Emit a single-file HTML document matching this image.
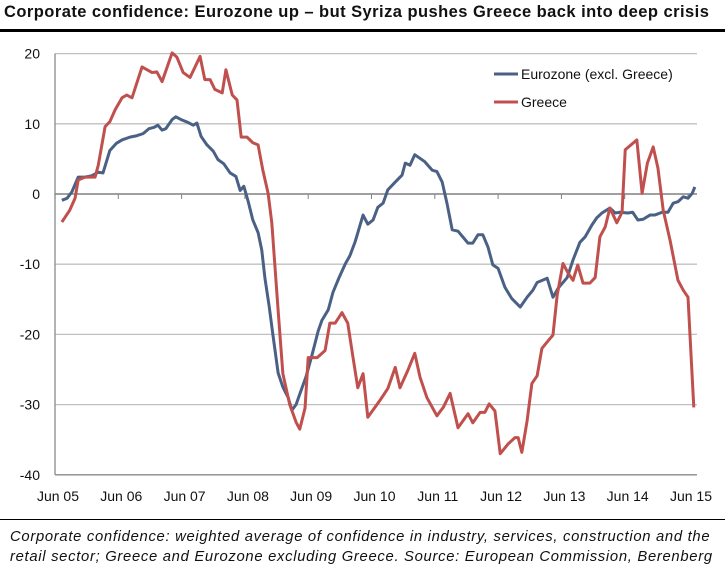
<!DOCTYPE html>
<html><head><meta charset="utf-8"><style>
body{margin:0;background:#fff;width:725px;height:573px;overflow:hidden;font-family:"Liberation Sans",sans-serif}
#title{position:absolute;left:4px;top:3px;font-weight:bold;font-size:16.5px;letter-spacing:0.45px;color:#111;white-space:nowrap}
#bar{position:absolute;left:0;top:29px;width:725px;height:3px;background:#000}
#foot{position:absolute;left:10px;top:527px;font-style:italic;font-size:14.8px;letter-spacing:0.7px;line-height:20px;color:#111;white-space:nowrap}
#sep{position:absolute;left:0;top:519px;width:725px;height:1px;background:#000}
svg{position:absolute;left:0;top:0}
</style></head><body>
<div id="title">Corporate confidence: Eurozone up – but Syriza pushes Greece back into deep crisis</div>
<div id="bar"></div>
<svg id="chart" width="725" height="573"></svg>
<div id="sep"></div>
<div id="foot">Corporate confidence: weighted average of confidence in industry, services, construction and the<br>retail sector; Greece and Eurozone excluding Greece. Source: European Commission, Berenberg</div>
<script>
const xLabels=["Jun 05","Jun 06","Jun 07","Jun 08","Jun 09","Jun 10","Jun 11","Jun 12","Jun 13","Jun 14","Jun 15"];
const yTicks=[20,10,0,-10,-20,-30,-40];
// months since Jun 05
const euroMonths=[1.3,2.3,3.2,4.4,5.7,7.0,8.2,9.1,10.4,11.6,12.7,14.2,15.5,16.7,17.8,18.8,19.5,20.3,21.0,22.2,22.9,23.9,25.2,26.2,26.9,27.7,28.8,30.0,30.9,32.0,33.2,34.3,35.1,35.8,36.6,37.5,38.5,39.2,39.8,40.6,41.3,42.3,43.2,44.2,44.9,45.7,46.4,47.6,48.7,49.9,50.6,51.8,52.7,53.8,55.0,55.9,56.9,58.4,59.3,60.3,61.2,62.2,63.1,64.5,65.8,66.4,67.3,68.2,70.1,71.5,72.4,73.4,74.3,75.3,76.4,78.3,79.2,80.2,81.1,82.1,83.0,84.0,85.3,86.6,88.2,89.5,90.6,91.4,93.3,94.4,95.4,97.1,98.2,99.5,100.5,101.8,102.7,103.7,105.2,106.2,107.1,108.6,109.5,110.5,111.5,112.8,113.7,115.1,116.2,117.2,118.1,119.1,120.0,120.8,121.3];
const euroValues=[-0.9,-0.6,0.3,2.4,2.4,2.6,3.1,3.0,6.2,7.2,7.7,8.1,8.3,8.6,9.3,9.5,9.8,9.1,9.3,10.6,11.0,10.6,10.2,9.8,10.1,8.2,7.0,6.1,4.9,4.3,3.0,2.5,0.5,1.1,-1.0,-3.7,-5.5,-8.0,-12,-16,-20,-25.5,-27.5,-29,-30.8,-30,-28.5,-26,-23,-19.5,-18,-16.5,-14,-12,-10,-8.8,-6.8,-3.0,-4.3,-3.7,-1.9,-1.3,0.6,1.7,2.7,4.4,4.1,5.6,4.6,3.4,3.2,1.7,-1.3,-5.1,-5.3,-7,-7,-5.8,-5.8,-7.6,-10.1,-10.6,-13.3,-14.9,-16.1,-14.7,-13.7,-12.6,-12,-14.7,-13.4,-11.9,-9.4,-6.9,-6.1,-4.4,-3.4,-2.7,-2,-2.7,-2.6,-2.7,-2.6,-3.7,-3.6,-3,-3,-2.6,-2.6,-1.3,-1.1,-0.4,-0.6,0.1,1.0];
const greeceMonths=[1.3,2.8,3.8,4.4,5.7,7.6,8.2,9.5,10.4,11.4,12.7,13.6,14.6,16.5,18.4,19.3,20.3,22.2,23.1,24.3,25.6,27.5,28.4,29.4,30.3,31.7,32.4,33.6,34.5,35.3,36.4,37.5,38.5,39.4,40.4,41.1,42.3,43.2,44.5,45.7,46.4,47.4,48.0,49.7,51.2,52.1,53.1,54.4,55.5,56.5,57.4,58.4,59.3,61.6,63.1,64.5,65.4,66.9,68.2,69.2,70.5,72.4,73.6,74.9,76.4,78.3,79.2,80.6,81.5,82.3,83.4,84.4,85.9,87.2,87.8,88.5,89.5,90.4,91.4,92.3,93.5,94.4,95.2,96.3,97.3,98.2,99.1,100.1,101.4,102.4,103.3,104.3,105.2,106.5,107.5,108.1,110.3,111.3,112.3,113.4,114.3,115.3,116.6,118.1,119.1,120.0,121.1];
const greeceValues=[-4,-2.3,-0.6,2,2.4,2.4,4.1,9.6,10.3,12,13.7,14.1,13.7,18.1,17.3,17.4,16,20.1,19.5,17.3,16.6,19.6,16.3,16.3,14.9,14.4,17.7,14.1,13.4,8.1,8.1,7.3,7,3.4,0.1,-4.1,-16.6,-25.6,-30,-32.5,-33.5,-30.5,-23.3,-23.3,-22.3,-18.4,-18.4,-16.9,-18.4,-23.3,-27.6,-25.6,-31.8,-29.4,-27.7,-24.7,-27.6,-25.1,-22.7,-26.1,-29,-31.6,-30.4,-28.4,-33.3,-31.3,-32.6,-31.1,-31.1,-29.9,-30.9,-37,-35.6,-34.7,-34.7,-36.8,-32.3,-27,-25.9,-22,-20.9,-20.1,-14.4,-9.9,-11.3,-12.3,-10.1,-12.7,-12.7,-11.9,-6.1,-4.7,-2,-4.1,-2.6,6.3,7.7,0.1,4.4,6.7,3.7,-2.3,-6.6,-12.3,-13.7,-14.7,-30.4];

const NS="http://www.w3.org/2000/svg";
const svg=document.getElementById('chart');
const x0=55,pxPerMonth=5.275,xRight=697;
const X=m=>x0+m*pxPerMonth;
const Y=v=>194-v*7.02;
function mk(t,a){const e=document.createElementNS(NS,t);for(const k in a)e.setAttribute(k,a[k]);svg.appendChild(e);return e;}
yTicks.forEach(v=>{
  if(v!==0&&v!==-40){const g=mk('line',{x1:x0,x2:xRight,y1:Y(v),y2:Y(v),stroke:'#c0c0c0','stroke-width':1.3});
  
  }
  const t=mk('text',{x:40,y:Y(v)+5,'text-anchor':'end','font-size':14,fill:'#111'});t.textContent=v;
  
  
});
const ax=mk('line',{x1:x0,x2:x0,y1:Y(20),y2:Y(-40),stroke:'#8a8a8a','stroke-width':1.3});


const bx=mk('line',{x1:x0,x2:xRight,y1:Y(-40),y2:Y(-40),stroke:'#8a8a8a','stroke-width':1.3});


const zx=mk('line',{x1:x0,x2:xRight,y1:Y(0),y2:Y(0),stroke:'#808080','stroke-width':1.6});


xLabels.forEach((l,i)=>{
  const tk=mk('line',{x1:X(i*12),x2:X(i*12),y1:Y(0),y2:Y(0)+5,stroke:'#808080','stroke-width':1});
  
  
  const t=mk('text',{x:X(i*12)+3,y:501,'text-anchor':'middle','font-size':14,fill:'#111'});t.textContent=l;
  
  
});
function series(ms,vs,col,name){
  const p=mk('polyline',{points:ms.map((m,i)=>X(m)+','+Y(vs[i])).join(' '),fill:'none',stroke:col,'stroke-width':3,'stroke-linejoin':'round'});
  
  
}
series(euroMonths,euroValues,'#4a6185','eurozone-line');
series(greeceMonths,greeceValues,'#c0504d','greece-line');
[['#4a6185','Eurozone (excl. Greece)',74],['#c0504d','Greece',102]].forEach(([c,l,y])=>{
  const ln=mk('line',{x1:494,x2:518,y1:y,y2:y,stroke:c,'stroke-width':3});
  
  
  const t=mk('text',{x:521,y:y+5,'font-size':14,fill:'#111'});t.textContent=l;
  
  
});
</script>
</body></html>
